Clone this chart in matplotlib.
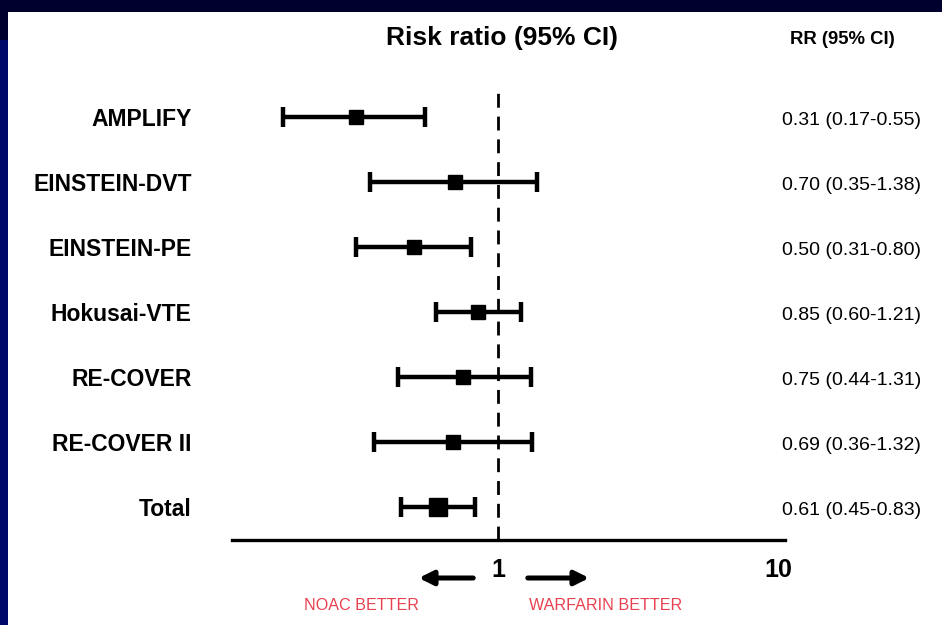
import matplotlib
matplotlib.use("Agg")
import matplotlib.pyplot as plt
import matplotlib.transforms as mtransforms
from matplotlib.patches import Rectangle

# data
studies = ["AMPLIFY", "EINSTEIN-DVT", "EINSTEIN-PE", "Hokusai-VTE",
           "RE-COVER", "RE-COVER II", "Total"]
rr = [0.31, 0.70, 0.50, 0.85, 0.75, 0.69, 0.61]
lo = [0.17, 0.35, 0.31, 0.60, 0.44, 0.36, 0.45]
hi = [0.55, 1.38, 0.80, 1.21, 1.31, 1.32, 0.83]
xticks = [1, 10]
xticklabels = ["1", "10"]

plt.rcParams['font.family'] = ['Liberation Sans', 'DejaVu Sans']

W, H = 942, 625
fig = plt.figure(figsize=(W / 100, H / 100), dpi=100)
fig.patch.set_facecolor('#00002e')
# bluish left strip and white slide panel (drawn below the axes)
fig.patches.append(Rectangle((0, 0), 8 / W, (H - 40) / H, transform=fig.transFigure,
                             facecolor='#000868', edgecolor='none', zorder=-11))
fig.patches.append(Rectangle((8 / W, 0), 1, (H - 12) / H, transform=fig.transFigure,
                             facecolor='white', edgecolor='none', zorder=-10))

ax = fig.add_axes([232 / W, (H - 540) / H, (785 - 232) / W, (540 - 85) / H])
ax.set_facecolor('none')
ax.set_xscale('log')
ax.set_xlim(0.112, 10.6)
ax.set_ylim(6.51, -0.49)

ax.axvline(1, color='black', lw=2, dashes=(5, 3.2), zorder=1)

ypos = list(range(len(studies)))
for i in ypos:
    ms = 13.5 if studies[i] == "Total" else 10.5
    ax.errorbar(rr[i], i, xerr=[[rr[i] - lo[i]], [hi[i] - rr[i]]], fmt='s',
                color='black', ms=ms, elinewidth=3.2, capsize=7, capthick=3.2, zorder=3)

for s in ['top', 'left', 'right']:
    ax.spines[s].set_visible(False)
ax.spines['bottom'].set_linewidth(2.4)

ax.set_yticks(ypos)
ax.set_yticklabels(studies, fontsize=16.5, fontweight='bold')
ax.tick_params(axis='y', length=0, pad=29)
ax.set_xticks(xticks)
ax.set_xticklabels(xticklabels, fontsize=18, fontweight='bold')
ax.minorticks_off()
ax.tick_params(axis='x', length=0, pad=13)

# right column with the numbers
trans = mtransforms.blended_transform_factory(fig.transFigure, ax.transData)
for i in ypos:
    txt = f"{rr[i]:.2f} ({lo[i]:.2f}-{hi[i]:.2f})"
    ax.text(782 / W, i + 0.05, txt, transform=trans, fontsize=14, ha='left', va='center')

fig.text(502 / W, 1 - 38 / H, "Risk ratio (95% CI)", fontsize=19, fontweight='bold',
         ha='center', va='center')
fig.text(842 / W, 1 - 40 / H, "RR (95% CI)", fontsize=13.3, fontweight='bold',
         ha='center', va='center')

# direction arrows
ay = 1 - 578 / H
ax.annotate("", xy=(416 / W, ay), xytext=(476 / W, ay), xycoords='figure fraction',
            arrowprops=dict(arrowstyle='-|>', lw=3.6, color='black', mutation_scale=21))
ax.annotate("", xy=(592 / W, ay), xytext=(525 / W, ay), xycoords='figure fraction',
            arrowprops=dict(arrowstyle='-|>', lw=3.6, color='black', mutation_scale=21))
fig.text(362 / W, 1 - 605 / H, "NOAC BETTER", color='#e8404f', fontsize=11.6,
         ha='center', va='center')
fig.text(606 / W, 1 - 605 / H, "WARFARIN BETTER", color='#e8404f', fontsize=11.6,
         ha='center', va='center')

fig.savefig("out.png", dpi=100, facecolor=fig.get_facecolor())
